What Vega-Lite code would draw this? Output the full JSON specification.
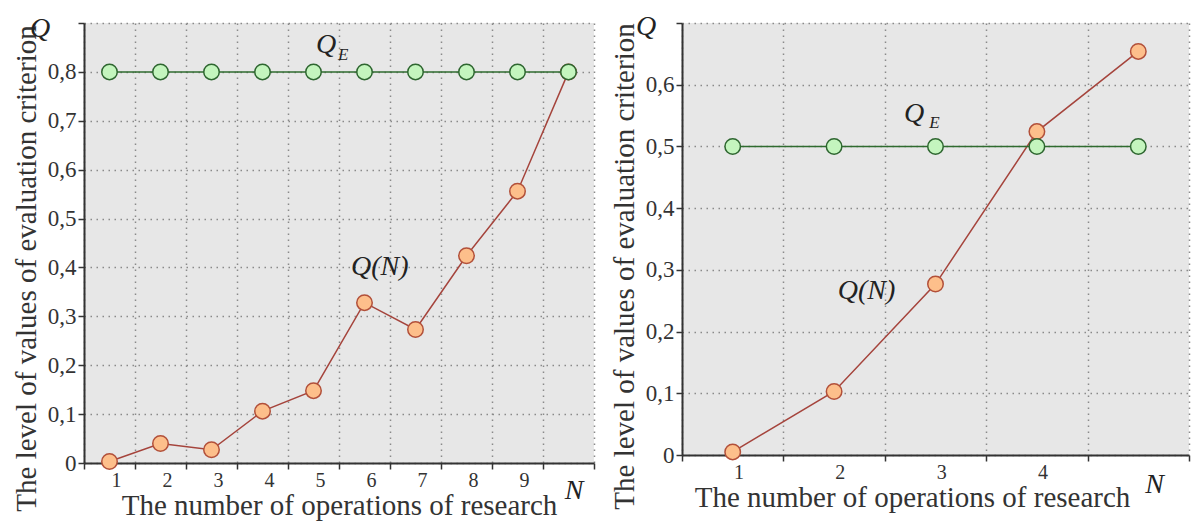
{
  "$schema": "https://vega.github.io/schema/vega-lite/v6.json",
  "background": "white",
  "padding": {"left": 12, "top": 12, "right": 5, "bottom": 5},
  "spacing": 15,
  "config": {
    "font": "'Liberation Serif', 'Times New Roman', 'DejaVu Serif', serif",
    "view": {"fill": "#e7e7e7", "stroke": null},
    "text": {"font": "'Liberation Serif', 'Times New Roman', 'DejaVu Serif', serif"},
    "axis": {
      "labelFont": "'Liberation Serif', 'Times New Roman', 'DejaVu Serif', serif",
      "titleFont": "'Liberation Serif', 'Times New Roman', 'DejaVu Serif', serif",
      "labelFontSize": 23, "titleFontSize": 29, "titleFontWeight": "normal",
      "labelColor": "#333", "titleColor": "#333",
      "domainColor": "#333", "domainWidth": 2,
      "tickColor": "#333", "tickWidth": 1.5, "tickSize": 6,
      "gridColor": "#8a8a8a", "gridDash": [1.5, 4.5], "gridWidth": 1.5,
      "labelOverlap": false, "labelFlush": false, "labelBound": false
    }
  },
  "hconcat": [
    {
      "width": 510, "height": 440,
      "data": {"values": [
        {"series": "Q(N)", "N": 1, "Q": 0.003},
        {"series": "Q(N)", "N": 2, "Q": 0.04},
        {"series": "Q(N)", "N": 3, "Q": 0.027},
        {"series": "Q(N)", "N": 4, "Q": 0.106},
        {"series": "Q(N)", "N": 5, "Q": 0.148},
        {"series": "Q(N)", "N": 6, "Q": 0.328},
        {"series": "Q(N)", "N": 7, "Q": 0.273},
        {"series": "Q(N)", "N": 8, "Q": 0.424},
        {"series": "Q(N)", "N": 9, "Q": 0.556},
        {"series": "Q(N)", "N": 10, "Q": 0.8},
        {"series": "Q_E", "N": 1, "Q": 0.8},
        {"series": "Q_E", "N": 2, "Q": 0.8},
        {"series": "Q_E", "N": 3, "Q": 0.8},
        {"series": "Q_E", "N": 4, "Q": 0.8},
        {"series": "Q_E", "N": 5, "Q": 0.8},
        {"series": "Q_E", "N": 6, "Q": 0.8},
        {"series": "Q_E", "N": 7, "Q": 0.8},
        {"series": "Q_E", "N": 8, "Q": 0.8},
        {"series": "Q_E", "N": 9, "Q": 0.8},
        {"series": "Q_E", "N": 10, "Q": 0.8}
      ]},
      "encoding": {
        "x": {"field": "N", "type": "quantitative",
              "scale": {"domain": [0.5, 10.5], "nice": false, "zero": false},
              "axis": {"title": "The number of operations of research",
                       "values": [0.5, 1.5, 2.5, 3.5, 4.5, 5.5, 6.5, 7.5, 8.5, 9.5, 10.5],
                       "labelExpr": "datum.value > 1 && datum.value < 10 ? format(datum.value - 0.5, 'd') : ''",
                       "labelFontSize": 20, "labelOffset": -19, "labelPadding": 1, "titlePadding": 1}},
        "y": {"field": "Q", "type": "quantitative",
              "scale": {"domain": [0, 0.9], "nice": false},
              "axis": {"title": "The level of values of evaluation criterion",
                       "values": [0, 0.1, 0.2, 0.3, 0.4, 0.5, 0.6, 0.7, 0.8, 0.9],
                       "labelExpr": "datum.value == 0 ? '0' : datum.value > 0.85 ? '' : replace(format(datum.value, '.1f'), '.', ',')",
                       "titlePadding": 6, "titleY": 245}}
      },
      "layer": [
        {"mark": {"type": "line", "strokeWidth": 1.5},
         "encoding": {"color": {"field": "series", "type": "nominal",
                                "scale": {"domain": ["Q(N)", "Q_E"], "range": ["#a5443c", "#2f6b2f"]}, "legend": null}}},
        {"mark": {"type": "point", "shape": "circle", "filled": true, "size": 240, "strokeWidth": 1.5, "opacity": 1},
         "encoding": {
           "fill": {"field": "series", "type": "nominal", "scale": {"domain": ["Q(N)", "Q_E"], "range": ["#fdbf8b", "#c4f5be"]}, "legend": null},
           "stroke": {"field": "series", "type": "nominal", "scale": {"domain": ["Q(N)", "Q_E"], "range": ["#b2503a", "#2e6630"]}, "legend": null}}},
        {"data": {"values": [
           {"N": -0.36, "Q": 0.888, "t": "Q"},
           {"N": 10.11, "Q": -0.057, "t": "N"},
           {"N": 5.245, "Q": 0.855, "t": "Q"},
           {"N": 6.3, "Q": 0.401, "t": "Q(N)"}
         ]},
         "mark": {"type": "text", "fontStyle": "italic", "fontSize": 28, "color": "#222", "baseline": "middle", "align": "center"},
         "encoding": {"text": {"field": "t"}}},
        {"data": {"values": [{"N": 5.58, "Q": 0.835, "t": "E"}]},
         "mark": {"type": "text", "fontStyle": "italic", "fontSize": 17, "color": "#222", "baseline": "middle", "align": "center"},
         "encoding": {"text": {"field": "t"}}}
      ]
    },
    {
      "width": 507, "height": 432,
      "data": {"values": [
        {"series": "Q(N)", "N": 1, "Q": 0.005},
        {"series": "Q(N)", "N": 2, "Q": 0.103},
        {"series": "Q(N)", "N": 3, "Q": 0.277},
        {"series": "Q(N)", "N": 4, "Q": 0.524},
        {"series": "Q(N)", "N": 5, "Q": 0.654},
        {"series": "Q_E", "N": 1, "Q": 0.5},
        {"series": "Q_E", "N": 2, "Q": 0.5},
        {"series": "Q_E", "N": 3, "Q": 0.5},
        {"series": "Q_E", "N": 4, "Q": 0.5},
        {"series": "Q_E", "N": 5, "Q": 0.5}
      ]},
      "encoding": {
        "x": {"field": "N", "type": "quantitative",
              "scale": {"domain": [0.5, 5.5], "nice": false, "zero": false},
              "axis": {"title": "The number of operations of research",
                       "values": [0.5, 1.5, 2.5, 3.5, 4.5, 5.5],
                       "labelExpr": "datum.value > 1 && datum.value < 5 ? format(datum.value - 0.5, 'd') : ''",
                       "labelFontSize": 20, "labelOffset": -45, "labelPadding": 1, "titlePadding": 1, "titleX": 230}},
        "y": {"field": "Q", "type": "quantitative",
              "scale": {"domain": [0, 0.7], "nice": false},
              "axis": {"title": "The level of values of evaluation criterion",
                       "values": [0, 0.1, 0.2, 0.3, 0.4, 0.5, 0.6, 0.7],
                       "labelExpr": "datum.value == 0 ? '0' : datum.value > 0.65 ? '' : replace(format(datum.value, '.1f'), '.', ',')",
                       "titlePadding": 6, "titleY": 243}}
      },
      "layer": [
        {"mark": {"type": "line", "strokeWidth": 1.5},
         "encoding": {"color": {"field": "series", "type": "nominal",
                                "scale": {"domain": ["Q(N)", "Q_E"], "range": ["#a5443c", "#2f6b2f"]}, "legend": null}}},
        {"mark": {"type": "point", "shape": "circle", "filled": true, "size": 240, "strokeWidth": 1.5, "opacity": 1},
         "encoding": {
           "fill": {"field": "series", "type": "nominal", "scale": {"domain": ["Q(N)", "Q_E"], "range": ["#fdbf8b", "#c4f5be"]}, "legend": null},
           "stroke": {"field": "series", "type": "nominal", "scale": {"domain": ["Q(N)", "Q_E"], "range": ["#b2503a", "#2e6630"]}, "legend": null}}},
        {"data": {"values": [
           {"N": 0.145, "Q": 0.693, "t": "Q"},
           {"N": 5.16, "Q": -0.049, "t": "N"},
           {"N": 2.79, "Q": 0.553, "t": "Q"},
           {"N": 2.32, "Q": 0.265, "t": "Q(N)"}
         ]},
         "mark": {"type": "text", "fontStyle": "italic", "fontSize": 28, "color": "#222", "baseline": "middle", "align": "center"},
         "encoding": {"text": {"field": "t"}}},
        {"data": {"values": [{"N": 2.99, "Q": 0.538, "t": "E"}]},
         "mark": {"type": "text", "fontStyle": "italic", "fontSize": 17, "color": "#222", "baseline": "middle", "align": "center"},
         "encoding": {"text": {"field": "t"}}}
      ]
    }
  ]
}
